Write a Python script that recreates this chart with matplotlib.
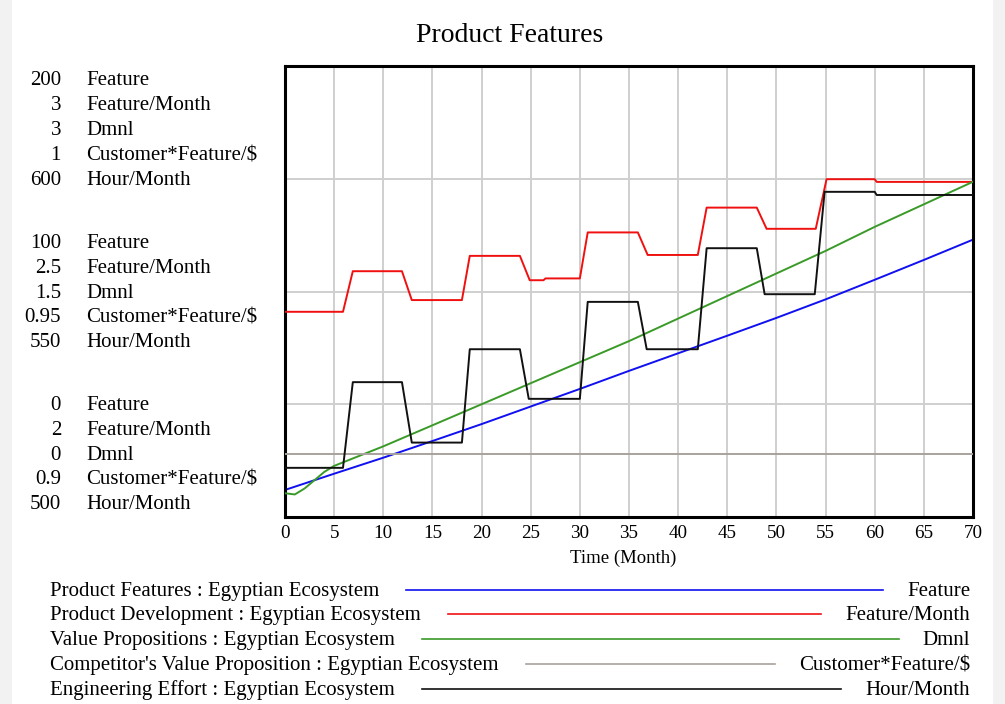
import matplotlib
matplotlib.use("Agg")
import matplotlib.pyplot as plt
from matplotlib.patches import Rectangle
from matplotlib.lines import Line2D

plt.rcParams['font.family'] = ['Liberation Serif', 'DejaVu Serif']

# ---------------- data ----------------
title = "Product Features"
x_label = "Time (Month)"
x_ticks = [0, 5, 10, 15, 20, 25, 30, 35, 40, 45, 50, 55, 60, 65, 70]

series_names = [
    "Product Features : Egyptian Ecosystem",
    "Product Development : Egyptian Ecosystem",
    "Value Propositions : Egyptian Ecosystem",
    "Competitor's Value Proposition : Egyptian Ecosystem",
    "Engineering Effort : Egyptian Ecosystem",
]
series_units = ["Feature", "Feature/Month", "Dmnl", "Customer*Feature/$", "Hour/Month"]
series_colors = ["#1010f0", "#f01010", "#3a9a28", "#a8a29c", "#111111"]
y_min = [0, 2, 0, 0.9, 500]
y_max = [200, 3, 3, 1, 600]

# Product Features (Feature)
feat_t = [0, 5, 10, 15, 20, 25, 30, 35, 40, 45, 50, 55, 60, 65, 70]
feat_v = [12, 19.2, 26.3, 33.7, 41.2, 49.0, 56.8, 64.8, 72.6, 80.4, 88.3, 96.5, 105.2, 114, 123]

# Product Development (Feature/Month)
dev_t = [0, 5.9, 6.9, 11.9, 12.9, 18.0, 18.8, 23.9, 24.9, 26.3, 26.5, 30.0, 30.8,
         35.9, 36.9, 42.0, 42.9, 48.0, 49.0, 54.0, 55.1, 60.0, 60.2, 70]
dev_v = [2.455, 2.455, 2.545, 2.545, 2.481, 2.481, 2.579, 2.579, 2.525, 2.525, 2.529, 2.529, 2.631,
         2.631, 2.581, 2.581, 2.686, 2.686, 2.639, 2.639, 2.749, 2.749, 2.743, 2.743]

# Value Propositions (Dmnl)
val_t = [0, 1, 2, 3, 4, 5, 10, 15, 20, 25, 30, 35, 40, 45, 50, 55, 60, 65, 70]
val_v = [0.158, 0.15, 0.19, 0.245, 0.30, 0.34, 0.47, 0.61, 0.75, 0.89, 1.03, 1.17,
         1.32, 1.47, 1.62, 1.77, 1.93, 2.08, 2.23]

# Competitor's Value Proposition (Customer*Feature/$)
comp_t = [0, 70]
comp_v = [0.914, 0.914]

# Engineering Effort (Hour/Month)
eng_t = [0, 5.9, 6.9, 11.9, 12.9, 18.0, 18.8, 23.9, 24.8, 30.0, 30.8,
         35.9, 36.8, 42.0, 42.9, 48.0, 48.8, 53.9, 54.9, 60.0, 60.2, 70]
eng_v = [510.9, 510.9, 529.9, 529.9, 516.5, 516.5, 537.2, 537.2, 526.2, 526.2, 547.7,
         547.7, 537.2, 537.2, 559.6, 559.6, 549.4, 549.4, 572.1, 572.1, 571.4, 571.4]

series_t = [feat_t, dev_t, val_t, comp_t, eng_t]
series_v = [feat_v, dev_v, val_v, comp_v, eng_v]

# ---------------- layout ----------------
W, H = 1005, 704
fig = plt.figure(figsize=(W / 100, H / 100), dpi=100)
fig.patch.set_facecolor("#f2f2f2")
fig.add_artist(Rectangle((12 / W, 0), (993 - 12) / W, 1, transform=fig.transFigure,
                         facecolor="white", edgecolor="none", zorder=-10))

def fx(px):
    return px / W

def fy(py):
    return 1 - py / H

L, R, T, B = 285, 973, 66, 517
ax = fig.add_axes([fx(L), fy(B), (R - L) / W, (B - T) / H])
ax.set_xlim(0, 70)
ax.set_ylim(y_min[0], y_max[0])
ax.set_xticks(x_ticks)
ax.set_xticklabels([str(t) for t in x_ticks], fontsize=13.8)
ax.set_yticks([y_min[0] + (y_max[0] - y_min[0]) * k / 4 for k in range(5)])
ax.tick_params(axis="both", length=0, pad=6)
ax.tick_params(axis="y", labelleft=False)
ax.grid(True, color="#cfcfcf", lw=1.4)
ax.set_axisbelow(True)
for s in ax.spines.values():
    s.set_linewidth(2.2)
    s.set_color("black")
    s.set_zorder(20)

axes_list = [ax]
for i in range(1, 5):
    tw = ax.twinx()
    tw.set_ylim(y_min[i], y_max[i])
    tw.set_yticks([])
    for s in tw.spines.values():
        s.set_visible(False)
    axes_list.append(tw)

for i in range(5):
    axes_list[i].plot(series_t[i], series_v[i], color=series_colors[i], lw=1.4,
                      solid_joinstyle="round", zorder=5)

# title and x label
fig.text(fx(510), fy(42), title, ha="center", va="baseline", fontsize=20)
fig.text(fx(623), fy(563), x_label, ha="center", va="baseline", fontsize=13.5)

# left scale labels (baselines)
def fmt(v):
    return "%g" % v

group_rows = [[85, 110, 135, 160, 185], [248, 273, 298, 322, 347], [410, 435, 460, 484, 509]]
for g, rows in enumerate(group_rows):
    for i in range(5):
        if g == 0:
            v = y_max[i]
        elif g == 1:
            v = (y_max[i] + y_min[i]) / 2
        else:
            v = y_min[i]
        fig.text(fx(61), fy(rows[i]), fmt(v), ha="right", va="baseline", fontsize=15)
        fig.text(fx(86), fy(rows[i]), series_units[i], ha="left", va="baseline", fontsize=15)

# bottom legend (baselines)
leg_rows = [596, 620, 645, 670, 695]
name_txt = []
unit_txt = []
for i in range(5):
    name_txt.append(fig.text(fx(50), fy(leg_rows[i]), series_names[i], ha="left", va="baseline", fontsize=15))
    unit_txt.append(fig.text(fx(970), fy(leg_rows[i]), series_units[i], ha="right", va="baseline", fontsize=15))

fig.canvas.draw()
renderer = fig.canvas.get_renderer()
for i in range(5):
    b1 = name_txt[i].get_window_extent(renderer)
    b2 = unit_txt[i].get_window_extent(renderer)
    x0 = b1.x1 + 27
    x1 = b2.x0 - 24
    ly = fy(leg_rows[i] - 6)
    fig.add_artist(Line2D([x0 / W, x1 / W], [ly, ly],
                          transform=fig.transFigure, color=series_colors[i], lw=1.2))

fig.savefig("out.png", dpi=100, facecolor=fig.get_facecolor())
